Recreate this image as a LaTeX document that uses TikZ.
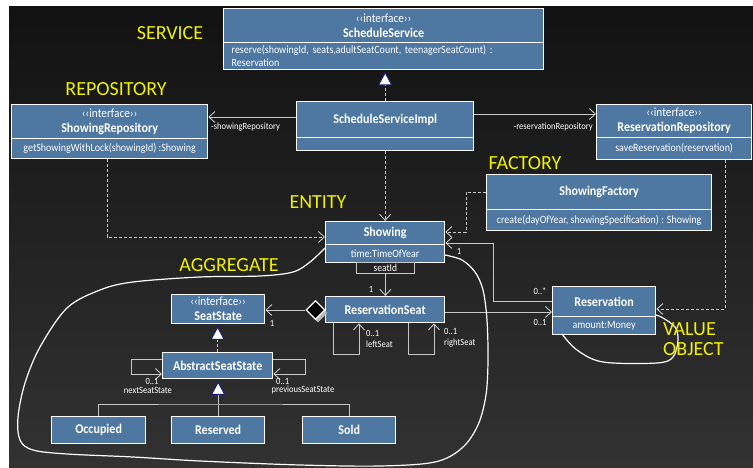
\documentclass[tikz,border=0pt]{standalone}
\usepackage{fontspec}
\setmainfont{Carlito}
\newfontfamily\boxfont[FakeStretch=0.9]{Carlito}
\usetikzlibrary{arrows.meta,shapes.geometric,calc}
\definecolor{boxblue}{RGB}{78,119,162}
\definecolor{linegray}{RGB}{200,200,200}
\definecolor{tagyellow}{RGB}{240,240,0}
\definecolor{navyc}{RGB}{30,30,120}
\definecolor{bgtop}{RGB}{18,18,18}
\definecolor{bgbot}{RGB}{50,50,50}
\newcommand{\stereotype}{{\mdseries\fontsize{12.5}{12}\selectfont ‹‹interface››}}
% hollow inheritance/realization head, apex at the given coordinate, opening downwards
\newcommand{\headtri}[1]{\filldraw[fill=white, draw=navyc, line width=1pt, line join=miter]
  (#1) -- ++(-6.5,12) -- ++(13,0) -- cycle;}

\begin{document}
\begin{tikzpicture}[x=1pt,y=-1pt,
  cls/.style={draw=white, line width=1.3pt, fill=boxblue, text=white, inner sep=0pt,
              anchor=north west, align=center, font=\boxfont\bfseries\fontsize{13.4}{15}\selectfont},
  ops/.style={cls, font=\boxfont\fontsize{11.1}{13}\selectfont},
  zone/.style={text=tagyellow, inner sep=0pt, font=\fontsize{20}{22}\selectfont},
  lbl/.style={text=white, inner sep=0pt, font=\boxfont\fontsize{9.5}{9}\selectfont},
  conn/.style={draw=linegray, line width=0.9pt},
  dep/.style={conn, dash pattern=on 3pt off 2pt},
  assoc/.style={-{Straight Barb[length=6pt,width=11pt]}},
  outline/.style={draw=white, line width=1.2pt}
]
% page and dark backdrop
\useasboundingbox (0,0) rectangle (753,468);
\fill[white] (0,0) rectangle (753,468);
\shade[top color=bgtop, bottom color=bgbot] (9,7) rectangle (753,468);

% ---- classes ----
\node[cls, minimum width=320, minimum height=34] (ssH) at (223,8) {\stereotype\\ScheduleService};
\node[ops, minimum width=320, minimum height=27, text width=304pt, inner xsep=8pt, align=left] (ssB) at (223,42)
  {reserve(showingId, seats,adultSeatCount, teenagerSeatCount) :\\Reservation};

\node[cls, minimum width=177, minimum height=36] (implH) at (296,101) {ScheduleServiceImpl};
\node[ops, minimum width=177, minimum height=13] (implB) at (296,137) {};

\node[cls, minimum width=196, minimum height=34] (shrH) at (11,104) {\stereotype\\ShowingRepository};
\node[ops, minimum width=196, minimum height=20] (shrB) at (11,138) {getShowingWithLock(showingId) :Showing};

\node[cls, minimum width=155, minimum height=33] (rrH) at (596,104) {\stereotype\\ReservationRepository};
\node[ops, minimum width=155, minimum height=22] (rrB) at (596,137) {saveReservation(reservation)};

\node[cls, minimum width=225, minimum height=35] (sfH) at (486,174) {ShowingFactory};
\node[ops, minimum width=225, minimum height=21] (sfB) at (486,209) {create(dayOfYear, showingSpecification) : Showing};

\node[cls, minimum width=119, minimum height=23] (shH) at (325,221) {Showing};
\node[ops, minimum width=119, minimum height=18] (shB) at (325,244) {time:TimeOfYear};
\node[draw=linegray, line width=0.8pt, anchor=north west, minimum width=58, minimum height=11,
      inner sep=0pt, text=white, font=\boxfont\fontsize{10.5}{10}\selectfont] (qual) at (356,262) {seatId};

\node[cls, minimum width=119, minimum height=26] (rs) at (325,296) {ReservationSeat};

\node[cls, minimum width=103, minimum height=30] (resH) at (552,286) {Reservation};
\node[ops, minimum width=103, minimum height=18] (resB) at (552,316) {amount:Money};

\node[cls, minimum width=93, minimum height=29] (ss) at (171,294) {\stereotype\\SeatState};
\node[cls, minimum width=110, minimum height=26] (ass) at (162,352) {AbstractSeatState};
\node[cls, minimum width=94, minimum height=27] (occ) at (51,416) {Occupied};
\node[cls, minimum width=93, minimum height=27] (rsv) at (171,416) {Reserved};
\node[cls, minimum width=93, minimum height=27] (sold) at (302,416) {Sold};

% composition diamond with its drop shadow
\node[diamond, aspect=1, minimum width=19, minimum height=19, inner sep=0pt, fill=gray!55] (dshadow) at (318,313) {};
\node[diamond, aspect=1, minimum width=19, minimum height=19, inner sep=0pt, fill=black, draw=white, line width=1.2pt] (dia) at (315.5,310) {};

% ---- connectors ----
% realization ScheduleServiceImpl -> ScheduleService
\coordinate (t1) at ($(implH.north |- ssB.south)+(0,2.5)$);
\draw[dep] (implH.north) -- ($(t1)+(0,12)$);
\headtri{t1}

\coordinate (a1) at ($(implH.north west)+(0,16)$);
\draw[conn, assoc] (a1) -- (a1 -| shrH.east);
\node[lbl, anchor=west] (lshr) at (211,127) {-showingRepository};

\coordinate (a2) at ($(implH.north east)+(0,13)$);
\draw[conn, assoc] (a2) -- (a2 -| rrH.west);
\node[lbl, anchor=east] (lrr) at (593,127) {-reservationRepository};

\draw[dep, assoc] (implB.south) -- (implB.south |- shH.north);

\coordinate (a3) at ($(shrB.south west)+(96,0)$);
\draw[dep, assoc] (a3) |- ($(shH.north west)+(0,16)$);

\draw[dep, assoc] ($(sfH.north west)+(0,18)$) -- ++(-20,0) |- ($(shH.north east)+(0,11)$);

\draw[conn, assoc] ($(resH.north west)+(0,15)$) -- ++(-59,0) |- ($(shH.north east)+(0,22)$);
\node[lbl] (m1) at (459,251) {1};
\node[lbl] (m2) at (540,291) {0..*};

\draw[dep, assoc] ($(rrB.south west)+(129,0)$) |- ($(resH.north east)+(0,23)$);

\coordinate (a4) at ($(rs.north east)+(0,16)$);
\draw[conn, assoc] (a4) -- (a4 -| resH.west);
\node[lbl] (m3) at (540,322) {0..1};

\draw[conn, assoc] (qual.south) -- (qual.south |- rs.north);
\node[lbl] (m4) at (371,289) {1};

\draw[conn, assoc] (dia.west) -- (dia.west -| ss.east);
\node[lbl] (m5) at (272,323) {1};

\draw[conn, assoc] ($(rs.south west)+(8,0)$) -- ++(0,31) -- ++(26,0) -- ++(0,-31);
\node[lbl, anchor=west] (m6) at (366,333) {0..1};
\node[lbl, anchor=west] (lls) at (366,344) {leftSeat};
\draw[conn, assoc] ($(rs.south west)+(83,0)$) -- ++(0,31) -- ++(26,0) -- ++(0,-31);
\node[lbl, anchor=west] (m7) at (444,331) {0..1};
\node[lbl, anchor=west] (lrs) at (444,343) {rightSeat};

% realization AbstractSeatState -> SeatState
\coordinate (t2) at ($(ass.north |- ss.south)+(0,3)$);
\draw[dep] (ass.north) -- ($(t2)+(0,12)$);
\headtri{t2}

\draw[conn, assoc] ($(ass.north west)+(0,7)$) -- ++(-31,0) -- ++(0,15) -- ++(31,0);
\node[lbl] (m8) at (152,381) {0..1};
\node[lbl] (lns) at (148,390) {nextSeatState};
\draw[conn, assoc] ($(ass.north east)+(0,7)$) -- ++(32,0) -- ++(0,15) -- ++(-32,0);
\node[lbl, anchor=west] (m9) at (276,381) {0..1};
\node[lbl] (lps) at (303,390) {previousSeatState};

% generalization of the three states
\coordinate (bus) at (217.5,404);
\coordinate (t3) at ($(rsv.north |- ass.south)+(0,3)$);
\draw[conn] (occ.north) |- (bus) -| (sold.north);
\draw[conn] (rsv.north) -- ($(t3)+(0,12)$);
\headtri{t3}

% ---- boundaries ----
\draw[outline] plot[smooth, tension=0.55] coordinates {
  (325,248) (310,262) (293,272) (260,276) (200,277) (133,282) (100,290) (67,308)
  (40,347) (25,383) (18,417) (20,440) (33,450) (67,454) (133,457) (200,461)
  (300,465) (380,466) (435,462) (462,448) (478,425) (486,395) (488,360)
  (487,320) (483,290) (475,272) (462,260) (445,255)};
\draw[outline] plot[smooth, tension=0.55] coordinates {
  (562,334) (577,350) (603,362) (657,363) (673,357) (678,340) (675,327) (663,318) (656,315)};

% ---- layer tags ----
\node[zone] (tService) at (170,33) {SERVICE};
\node[zone] (tRepo) at (116,89) {REPOSITORY};
\node[zone] (tFactory) at (525,163) {FACTORY};
\node[zone] (tEntity) at (318,202) {ENTITY};
\node[zone] (tAgg) at (229,265) {AGGREGATE};
\node[zone, anchor=west] (tValue) at (663,329) {VALUE};
\node[zone, anchor=west] (tObject) at (663,349) {OBJECT};
\end{tikzpicture}
\end{document}
